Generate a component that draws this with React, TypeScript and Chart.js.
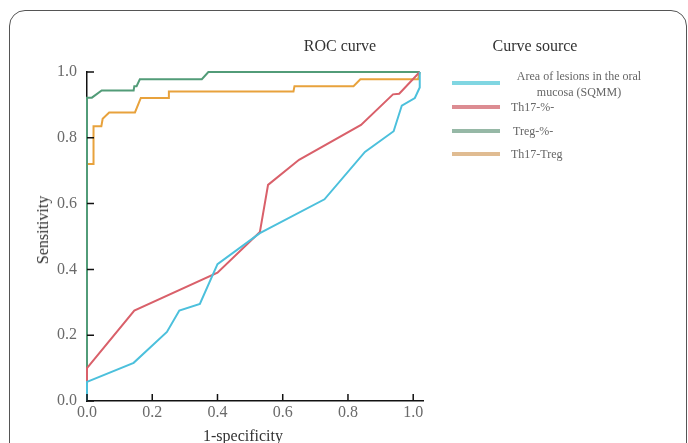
import React, { useEffect, useRef } from "react";
import { Chart, registerables } from "chart.js";

Chart.register(...registerables);

const FONT = "'Liberation Serif', 'Times New Roman', serif";

// Area of lesions in the oral mucosa (SQMM)
const cyanX = [0, 0, 0.143, 0.245, 0.283, 0.346, 0.4, 0.53, 0.728, 0.852, 0.94, 0.965, 1.005, 1.02, 1.02];
const cyanY = [0, 0.058, 0.116, 0.21, 0.275, 0.295, 0.416, 0.51, 0.613, 0.757, 0.82, 0.898, 0.921, 0.953, 1.0];
// Th17-%-
const redX = [0, 0, 0.145, 0.4, 0.53, 0.555, 0.65, 0.84, 0.938, 0.957, 1.02];
const redY = [0, 0.1, 0.275, 0.39, 0.514, 0.657, 0.733, 0.839, 0.932, 0.934, 1.0];
// Treg-%-
const greenX = [0, 0, 0.015, 0.045, 0.143, 0.145, 0.152, 0.162, 0.352, 0.372, 1.02];
const greenY = [0, 0.922, 0.922, 0.944, 0.944, 0.957, 0.957, 0.978, 0.978, 1.0, 1.0];
// Th17-Treg
const orangeX = [0, 0, 0.02, 0.02, 0.044, 0.048, 0.068, 0.147, 0.165, 0.249, 0.251, 0.633, 0.636, 0.817, 0.838, 1.015, 1.02];
const orangeY = [0, 0.72, 0.72, 0.835, 0.835, 0.858, 0.877, 0.877, 0.921, 0.921, 0.941, 0.941, 0.957, 0.957, 0.978, 0.978, 1.0];

const xTicks = [0, 0.2, 0.4, 0.6, 0.8, 1.0];
const yTicks = [0, 0.2, 0.4, 0.6, 0.8, 1.0];

const seriesNames = ["Area of lesions in the oral mucosa (SQMM)", "Th17-%-", "Treg-%-", "Th17-Treg"];
const lineColors = ["#4cc0dc", "#d9606a", "#529c78", "#e8a23c"];
const legendColors = ["#80d6e2", "#dc8c92", "#96b8a6", "#e0bc92"];

const pts = (xs: number[], ys: number[]) => xs.map((x, i) => ({ x, y: ys[i] }));

const inwardTicks = {
  id: "inwardTicks",
  afterDraw(chart: any) {
    const { ctx, chartArea } = chart;
    const xs = chart.scales.x;
    const ys = chart.scales.y;
    ctx.save();
    ctx.strokeStyle = "#111";
    ctx.lineWidth = 1.5;
    ctx.beginPath();
    for (const v of xTicks) {
      const px = xs.getPixelForValue(v);
      ctx.moveTo(px, chartArea.bottom);
      ctx.lineTo(px, chartArea.bottom - 7);
    }
    for (const v of yTicks) {
      const py = ys.getPixelForValue(v);
      ctx.moveTo(chartArea.left, py);
      ctx.lineTo(chartArea.left + 7, py);
    }
    ctx.stroke();
    ctx.restore();
  },
};

export default function App() {
  const ref = useRef<HTMLCanvasElement | null>(null);

  useEffect(() => {
    if (!ref.current) return;
    const data = [pts(cyanX, cyanY), pts(redX, redY), pts(greenX, greenY), pts(orangeX, orangeY)];
    const chart = new Chart(ref.current, {
      type: "scatter",
      data: {
        datasets: data.map((d, i) => ({
          label: seriesNames[i],
          data: d,
          showLine: true,
          borderColor: lineColors[i],
          backgroundColor: lineColors[i],
          borderWidth: 2,
          pointRadius: 0,
          tension: 0,
          clip: false as any,
        })),
      },
      options: {
        animation: false,
        responsive: false,
        layout: { padding: { left: 0, top: 72, right: 265, bottom: 0 } },
        plugins: { legend: { display: false }, tooltip: { enabled: false }, title: { display: false } },
        scales: {
          x: {
            type: "linear",
            min: 0,
            max: 1.03,
            afterBuildTicks: (s: any) => {
              s.ticks = xTicks.map((v) => ({ value: v }));
            },
            afterFit: (s: any) => {
              s.height = 42;
            },
            grid: { display: false, drawTicks: false },
            border: { color: "#111", width: 1.5 },
            ticks: {
              padding: 2,
              color: "#6a6a6a",
              font: { family: FONT, size: 16 },
              callback: (v: any) => Number(v).toFixed(1),
            },
          },
          y: {
            type: "linear",
            min: 0,
            max: 1,
            afterBuildTicks: (s: any) => {
              s.ticks = yTicks.map((v) => ({ value: v }));
            },
            afterFit: (s: any) => {
              s.width = 87;
            },
            grid: { display: false, drawTicks: false },
            border: { color: "#111", width: 1.5 },
            ticks: {
              padding: 10,
              color: "#6a6a6a",
              font: { family: FONT, size: 16 },
              callback: (v: any) => Number(v).toFixed(1),
            },
          },
        },
      },
      plugins: [inwardTicks],
    });
    return () => chart.destroy();
  }, []);

  const text = (content: React.ReactNode, cx: number, cy: number, size: number, color: string, extra: any = {}) => (
    <div
      style={{
        position: "absolute",
        left: cx,
        top: cy,
        transform: "translate(-50%, -50%)" + (extra.rotate ? ` rotate(${extra.rotate}deg)` : ""),
        fontFamily: FONT,
        fontSize: size,
        color,
        whiteSpace: "nowrap",
        textAlign: "center",
        lineHeight: extra.lineHeight || "normal",
      }}
    >
      {content}
    </div>
  );

  const legendY = [83, 107, 131, 154];

  return (
    <div style={{ position: "fixed", left: 0, top: 0, width: 688, height: 443, background: "#fff", overflow: "hidden" }}>
      <div
        style={{
          position: "absolute",
          left: 9,
          top: 10,
          width: 678,
          height: 470,
          border: "1px solid #555",
          borderRadius: 16,
          boxSizing: "border-box",
        }}
      />
      <canvas ref={ref} width={688} height={443} style={{ position: "absolute", left: 0, top: 0 }} />
      {text("ROC curve", 340, 46, 16, "#333")}
      {text("Curve source", 535, 46, 16, "#333")}
      {text("1-specificity", 243, 436, 16, "#333")}
      {text("Sensitivity", 43, 230, 16, "#333", { rotate: -90 })}
      {legendY.map((y, i) => (
        <div
          key={i}
          style={{ position: "absolute", left: 452, top: y - 2, width: 48, height: 4, background: legendColors[i] }}
        />
      ))}
      {text(<>Area of lesions in the oral<br />mucosa (SQMM)</>, 579, 84, 12, "#666", { lineHeight: "16px" })}
      <div style={{ position: "absolute", left: 511, top: 100, fontFamily: FONT, fontSize: 12, color: "#666" }}>Th17-%-</div>
      <div style={{ position: "absolute", left: 513, top: 124, fontFamily: FONT, fontSize: 12, color: "#666" }}>Treg-%-</div>
      <div style={{ position: "absolute", left: 511, top: 147, fontFamily: FONT, fontSize: 12, color: "#666" }}>Th17-Treg</div>
    </div>
  );
}
